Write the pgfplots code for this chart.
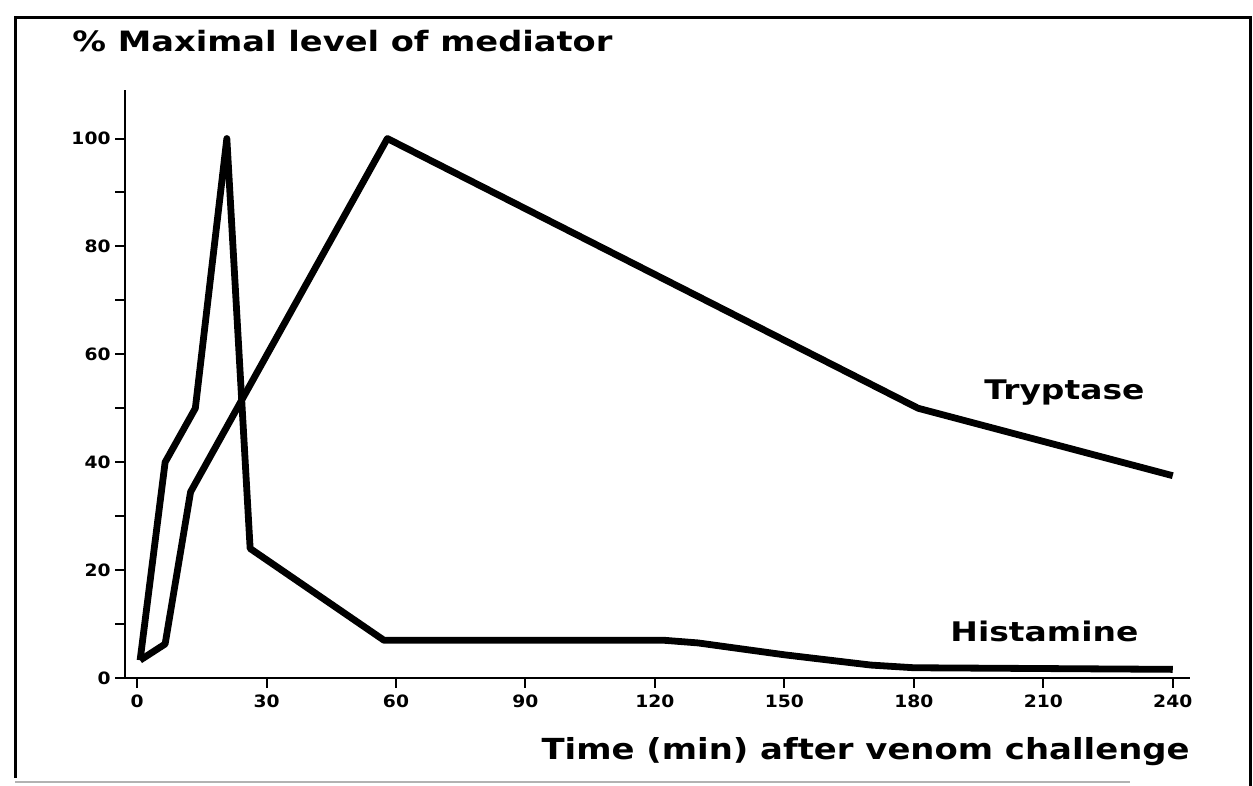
\documentclass[border=0pt]{standalone}
\usepackage{fontspec}
\setmainfont{DejaVu Sans}
\usepackage{graphicx}
\usepackage{pgfplots}
\pgfplotsset{compat=1.18}
\begin{document}
\begin{tikzpicture}
\useasboundingbox (0,0) rectangle (626.5pt,393pt);
\draw[line width=1.5pt] (7.5pt,4pt) -- (7.5pt,384pt) -- (625pt,384pt) -- (625pt,0pt);
\draw[line width=1.2pt, gray!60] (7.5pt,2pt) -- (565pt,2pt);
\begin{axis}[
  at={(62.5pt,54pt)}, anchor=south west,
  scale only axis, width=532.5pt, height=294pt,
  xmin=-2.8, xmax=244, ymin=0, ymax=109,
  axis lines*=left,
  axis line style={line width=1.2pt},
  xtick={0,30,...,240}, ytick={0,20,...,100},
  minor ytick={10,30,50,70,90},
  tick align=outside,
  major tick length=5pt, minor tick length=5pt,
  every tick/.style={black, line width=1pt},
  tick label style={font=\fontsize{8.5}{10}\selectfont\bfseries, xscale=1.1},
  yticklabel style={xshift=1.5pt},
  /pgf/number format/assume math mode=true,
  clip=false,
]
\addplot[line width=3.4pt, line join=round] coordinates {
(0.7,3.3) (6.5,40) (13.5,50) (20.8,100) (26.2,24) (57.2,7) (122,7) (130,6.5) (150,4.3) (170,2.4) (180,1.9) (240,1.6)};
\addplot[line width=3.4pt, line join=round] coordinates {
(0.7,3.3) (6.5,6.3) (12.4,34.5) (58,100) (181,50) (240,37.5)};
\end{axis}
\node[anchor=base west, inner sep=0pt] at (36pt,367pt) {\resizebox{270pt}{\height}{\fontsize{14}{16}\selectfont\bfseries \% Maximal level of mediator}};
\node[anchor=base east, inner sep=0pt] at (595pt,13pt) {\resizebox{324pt}{\height}{\fontsize{14.5}{16}\selectfont\bfseries Time (min) after venom challenge}};
\node[anchor=base west, inner sep=0pt] at (492pt,193pt) {\resizebox{80pt}{\height}{\fontsize{13.5}{16}\selectfont\bfseries Tryptase}};
\node[anchor=base west, inner sep=0pt] at (475pt,72pt) {\resizebox{94pt}{\height}{\fontsize{13.5}{16}\selectfont\bfseries Histamine}};
\end{tikzpicture}
\end{document}
